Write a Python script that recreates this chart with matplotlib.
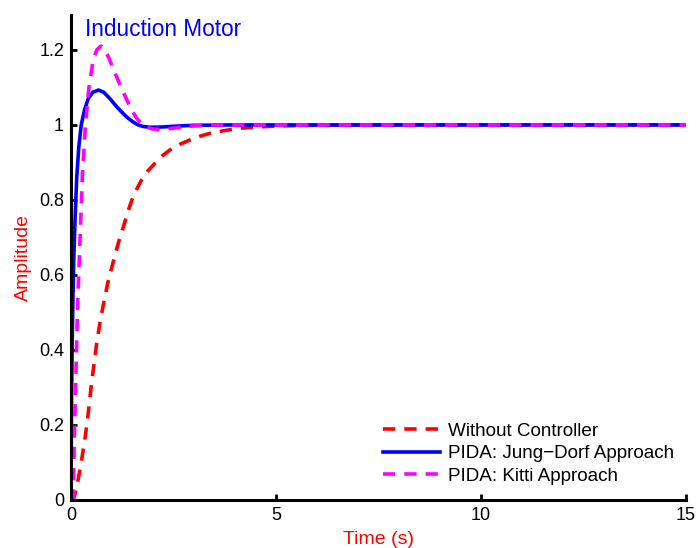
import matplotlib
matplotlib.use('Agg')
import matplotlib.pyplot as plt

plt.rcParams['font.family'] = ['Liberation Sans', 'DejaVu Sans']

# step responses
t_without = [0, 0.06, 0.15, 0.25, 0.35, 0.43, 0.5, 0.57, 0.63, 0.7, 0.77, 0.84, 0.9, 0.97,
             1.03, 1.16, 1.28, 1.38, 1.48, 1.6, 1.72, 1.88, 2.05, 2.22, 2.41, 2.65, 2.9,
             3.15, 3.4, 3.75, 4.1, 4.5, 5, 6, 8, 15]
y_without = [0, 0.0, 0.04, 0.1, 0.17, 0.24, 0.31, 0.37, 0.42, 0.468, 0.51, 0.548, 0.58,
             0.61, 0.635, 0.687, 0.729, 0.766, 0.798, 0.828, 0.853, 0.878, 0.898, 0.917,
             0.933, 0.948, 0.96, 0.97, 0.978, 0.985, 0.991, 0.994, 0.997, 0.999, 1.0, 1.0]

t_jungdorf = [0, 0.005, 0.015, 0.03, 0.05, 0.07, 0.1, 0.14, 0.19, 0.25, 0.33, 0.42, 0.53,
              0.67, 0.8, 0.95, 1.11, 1.24, 1.36, 1.5, 1.62, 1.75, 1.9, 2.1, 2.3, 2.6,
              3.0, 4.0, 15]
y_jungdorf = [0, 0.12, 0.28, 0.42, 0.55, 0.65, 0.75, 0.86, 0.94, 1.0, 1.04, 1.07, 1.087,
              1.093, 1.087, 1.07, 1.049, 1.034, 1.021, 1.009, 1.001, 0.996, 0.994,
              0.994, 0.995, 0.997, 0.999, 1.0, 1.0]

t_kitti = [0, 0.04, 0.06, 0.08, 0.12, 0.16, 0.22, 0.28, 0.35, 0.43, 0.54, 0.63, 0.73,
           0.82, 0.91, 1.0, 1.11, 1.23, 1.36, 1.48, 1.6, 1.72, 1.84, 2.0, 2.17, 2.33,
           2.49, 2.8, 3.5, 15]
y_kitti = [0, 0.0, 0.03, 0.16, 0.338, 0.516, 0.693, 0.871, 0.995, 1.093, 1.173, 1.2,
           1.21, 1.2, 1.182, 1.158, 1.129, 1.098, 1.067, 1.04, 1.018, 1.003, 0.994,
           0.989, 0.988, 0.989, 0.991, 0.996, 1.0, 1.0]

labels = ['Without Controller', 'PIDA: Jung\u2212Dorf Approach', 'PIDA: Kitti Approach']
x_ticks = [0, 5, 10, 15]
y_ticks = [0, 0.2, 0.4, 0.6, 0.8, 1, 1.2]
y_ticklabels = ['0', '0.2', '0.4', '0.6', '0.8', '1', '1.2']

fig = plt.figure(figsize=(6.98, 5.48), dpi=100)
ax = fig.add_axes([0.1017, 0.0876, 0.8811, 0.885])

dash = (0, (3.4, 2.5))
ax.plot(t_without, y_without, color='red', lw=2.6, linestyle=dash, label=labels[0])
ax.plot(t_jungdorf, y_jungdorf, color='blue', lw=2.6, label=labels[1])
ax.plot(t_kitti, y_kitti, color='magenta', lw=2.6, linestyle=dash, label=labels[2])

ax.set_xlim(0, 15)
ax.set_ylim(0, 1.293)
ax.set_xticks(x_ticks)
ax.set_yticks(y_ticks)
ax.set_yticklabels(y_ticklabels)
ax.tick_params(direction='in', length=4, width=2, labelsize=13, pad=5)

for s in ['top', 'right']:
    ax.spines[s].set_visible(False)
for s in ['left', 'bottom']:
    ax.spines[s].set_linewidth(2.2)

ax.text(0.33, 1.255, 'Induction Motor', color='blue', fontsize=16.3, va='center', ha='left')
ax.set_xlabel('Time (s)', color='red', fontsize=14, labelpad=5)
ax.set_ylabel('Amplitude', color='red', fontsize=14, labelpad=5)

ax.legend(loc='lower right', bbox_to_anchor=(1.006, 0.0), frameon=False, fontsize=13.6,
          handlelength=3.0, handletextpad=0.45, labelspacing=0.28, borderpad=0.3)

fig.savefig('out.png', dpi=100)
